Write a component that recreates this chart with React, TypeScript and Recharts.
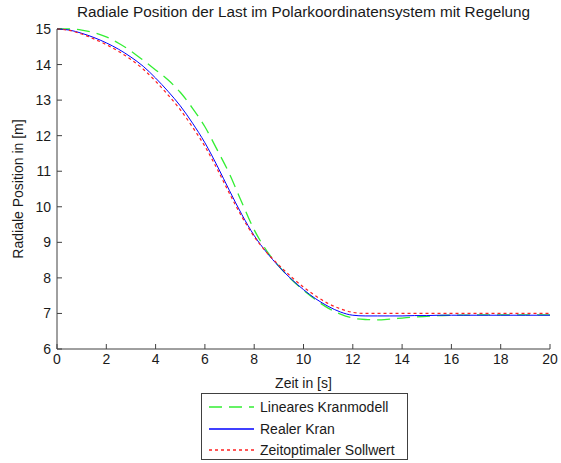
import { LineChart, Line, XAxis, YAxis } from 'recharts';

const zeit = [
  0, 0.5, 1, 1.5, 2, 2.5, 3, 3.5, 4, 4.5, 5, 5.5, 6, 6.5, 7, 7.5, 8, 8.5, 9, 9.5, 10,
  10.5, 11, 11.5, 12, 12.5, 13, 13.5, 14, 14.5, 15, 15.5, 16, 16.5, 17, 17.5, 18, 18.5, 19, 19.5, 20,
];

const linearesModell = [
  15.0, 15.0, 14.97, 14.9, 14.78, 14.6, 14.38, 14.12, 13.85, 13.57, 13.22, 12.77, 12.25, 11.6, 10.92, 10.12, 9.35, 8.77, 8.33, 7.96, 7.65,
  7.38, 7.15, 6.98, 6.87, 6.83, 6.82, 6.84, 6.87, 6.9, 6.92, 6.94, 6.95, 6.95, 6.96, 6.96, 6.96, 6.96, 6.96, 6.96, 6.96,
];

const realerKran = [
  15.0, 14.97, 14.88, 14.76, 14.61, 14.43, 14.21, 13.95, 13.62, 13.25, 12.84, 12.35, 11.8, 11.15, 10.45, 9.78, 9.19, 8.72, 8.32, 7.97, 7.67,
  7.41, 7.2, 7.04, 6.95, 6.93, 6.93, 6.93, 6.93, 6.94, 6.94, 6.95, 6.95, 6.95, 6.95, 6.95, 6.95, 6.95, 6.95, 6.95, 6.95,
];

const sollwert = [
  15.0, 14.96, 14.86, 14.72, 14.56, 14.37, 14.14, 13.87, 13.53, 13.15, 12.73, 12.24, 11.7, 11.06, 10.37, 9.72, 9.16, 8.72, 8.36, 8.03, 7.74,
  7.49, 7.28, 7.13, 7.03, 7.0, 7.0, 7.0, 7.0, 7.0, 7.0, 7.0, 7.0, 7.0, 7.0, 7.0, 7.0, 7.0, 7.0, 7.0, 7.0,
];

const xTicks = [0, 2, 4, 6, 8, 10, 12, 14, 16, 18, 20];
const yTicks = [6, 7, 8, 9, 10, 11, 12, 13, 14, 15];

const data = zeit.map((t, i) => ({
  t,
  linear: linearesModell[i],
  real: realerKran[i],
  soll: sollwert[i],
}));

const font = '"Liberation Sans", Arial, sans-serif';
const axisColor = '#404040';
const tickStyle = { fill: '#1a1a1a', fontSize: 14, fontFamily: font };

const legendItems = [
  { label: 'Lineares Kranmodell', color: '#33ee33', dash: '13 7' },
  { label: 'Realer Kran', color: '#0000ff', dash: undefined },
  { label: 'Zeitoptimaler Sollwert', color: '#ff2020', dash: '3 3' },
];

export default function App() {
  return (
    <div
      style={{
        position: 'absolute',
        left: 0,
        top: 0,
        width: 561,
        height: 463,
        background: '#fff',
        fontFamily: font,
      }}
    >
      <div
        style={{
          position: 'absolute',
          left: 57,
          width: 493,
          top: 3,
          textAlign: 'center',
          fontSize: 15.3,
          lineHeight: '18px',
          color: '#1a1a1a',
        }}
      >
        Radiale Position der Last im Polarkoordinatensystem mit Regelung
      </div>

      <LineChart
        width={561}
        height={463}
        data={data}
        margin={{ top: 29, right: 11, bottom: 89, left: 0 }}
      >
        <XAxis
          dataKey="t"
          type="number"
          domain={[0, 20]}
          ticks={xTicks}
          interval={0}
          height={25}
          stroke={axisColor}
          tickSize={-5}
          tickMargin={10}
          tick={tickStyle}
          label={{
            value: 'Zeit in [s]',
            position: 'bottom',
            offset: 4,
            style: { fill: '#1a1a1a', fontSize: 14, fontFamily: font },
          }}
        />
        <XAxis
          xAxisId="top"
          orientation="top"
          dataKey="t"
          type="number"
          domain={[0, 20]}
          ticks={xTicks}
          interval={0}
          height={0}
          stroke={axisColor}
          tickSize={-5}
          tick={false}
        />
        <YAxis
          type="number"
          domain={[6, 15]}
          ticks={yTicks}
          interval={0}
          width={57}
          stroke={axisColor}
          tickSize={-5}
          tickMargin={11}
          tick={tickStyle}
          label={{
            value: 'Radiale Position in [m]',
            angle: -90,
            position: 'insideLeft',
            offset: 18,
            style: { textAnchor: 'middle', fill: '#1a1a1a', fontSize: 14, fontFamily: font },
          }}
        />
        <YAxis
          yAxisId="right"
          orientation="right"
          type="number"
          domain={[6, 15]}
          ticks={yTicks}
          interval={0}
          width={0}
          stroke={axisColor}
          tickSize={-5}
          tick={false}
        />
        <Line
          dataKey="linear"
          stroke="#33ee33"
          strokeWidth={1.3}
          strokeDasharray="13 7"
          dot={false}
          type="monotone"
          isAnimationActive={false}
        />
        <Line
          dataKey="real"
          stroke="#0000ff"
          strokeWidth={1}
          dot={false}
          type="monotone"
          isAnimationActive={false}
        />
        <Line
          dataKey="soll"
          stroke="#ff2020"
          strokeWidth={1.2}
          strokeDasharray="3 3"
          dot={false}
          type="monotone"
          isAnimationActive={false}
        />
      </LineChart>

      <div
        style={{
          position: 'absolute',
          left: 201,
          top: 393,
          width: 205,
          height: 65,
          border: `1px solid ${axisColor}`,
          background: '#fff',
          boxSizing: 'content-box',
        }}
      >
        {legendItems.map((item, i) => (
          <div
            key={item.label}
            style={{
              position: 'absolute',
              left: 6,
              top: 3 + i * 21.7,
              height: 20,
              display: 'flex',
              alignItems: 'center',
              fontSize: 14,
              color: '#1a1a1a',
              whiteSpace: 'nowrap',
            }}
          >
            <svg width={46} height={20} style={{ marginRight: 6 }}>
              <line
                x1={1}
                y1={10}
                x2={46}
                y2={10}
                stroke={item.color}
                strokeWidth={1.3}
                strokeDasharray={item.dash}
              />
            </svg>
            {item.label}
          </div>
        ))}
      </div>
    </div>
  );
}
